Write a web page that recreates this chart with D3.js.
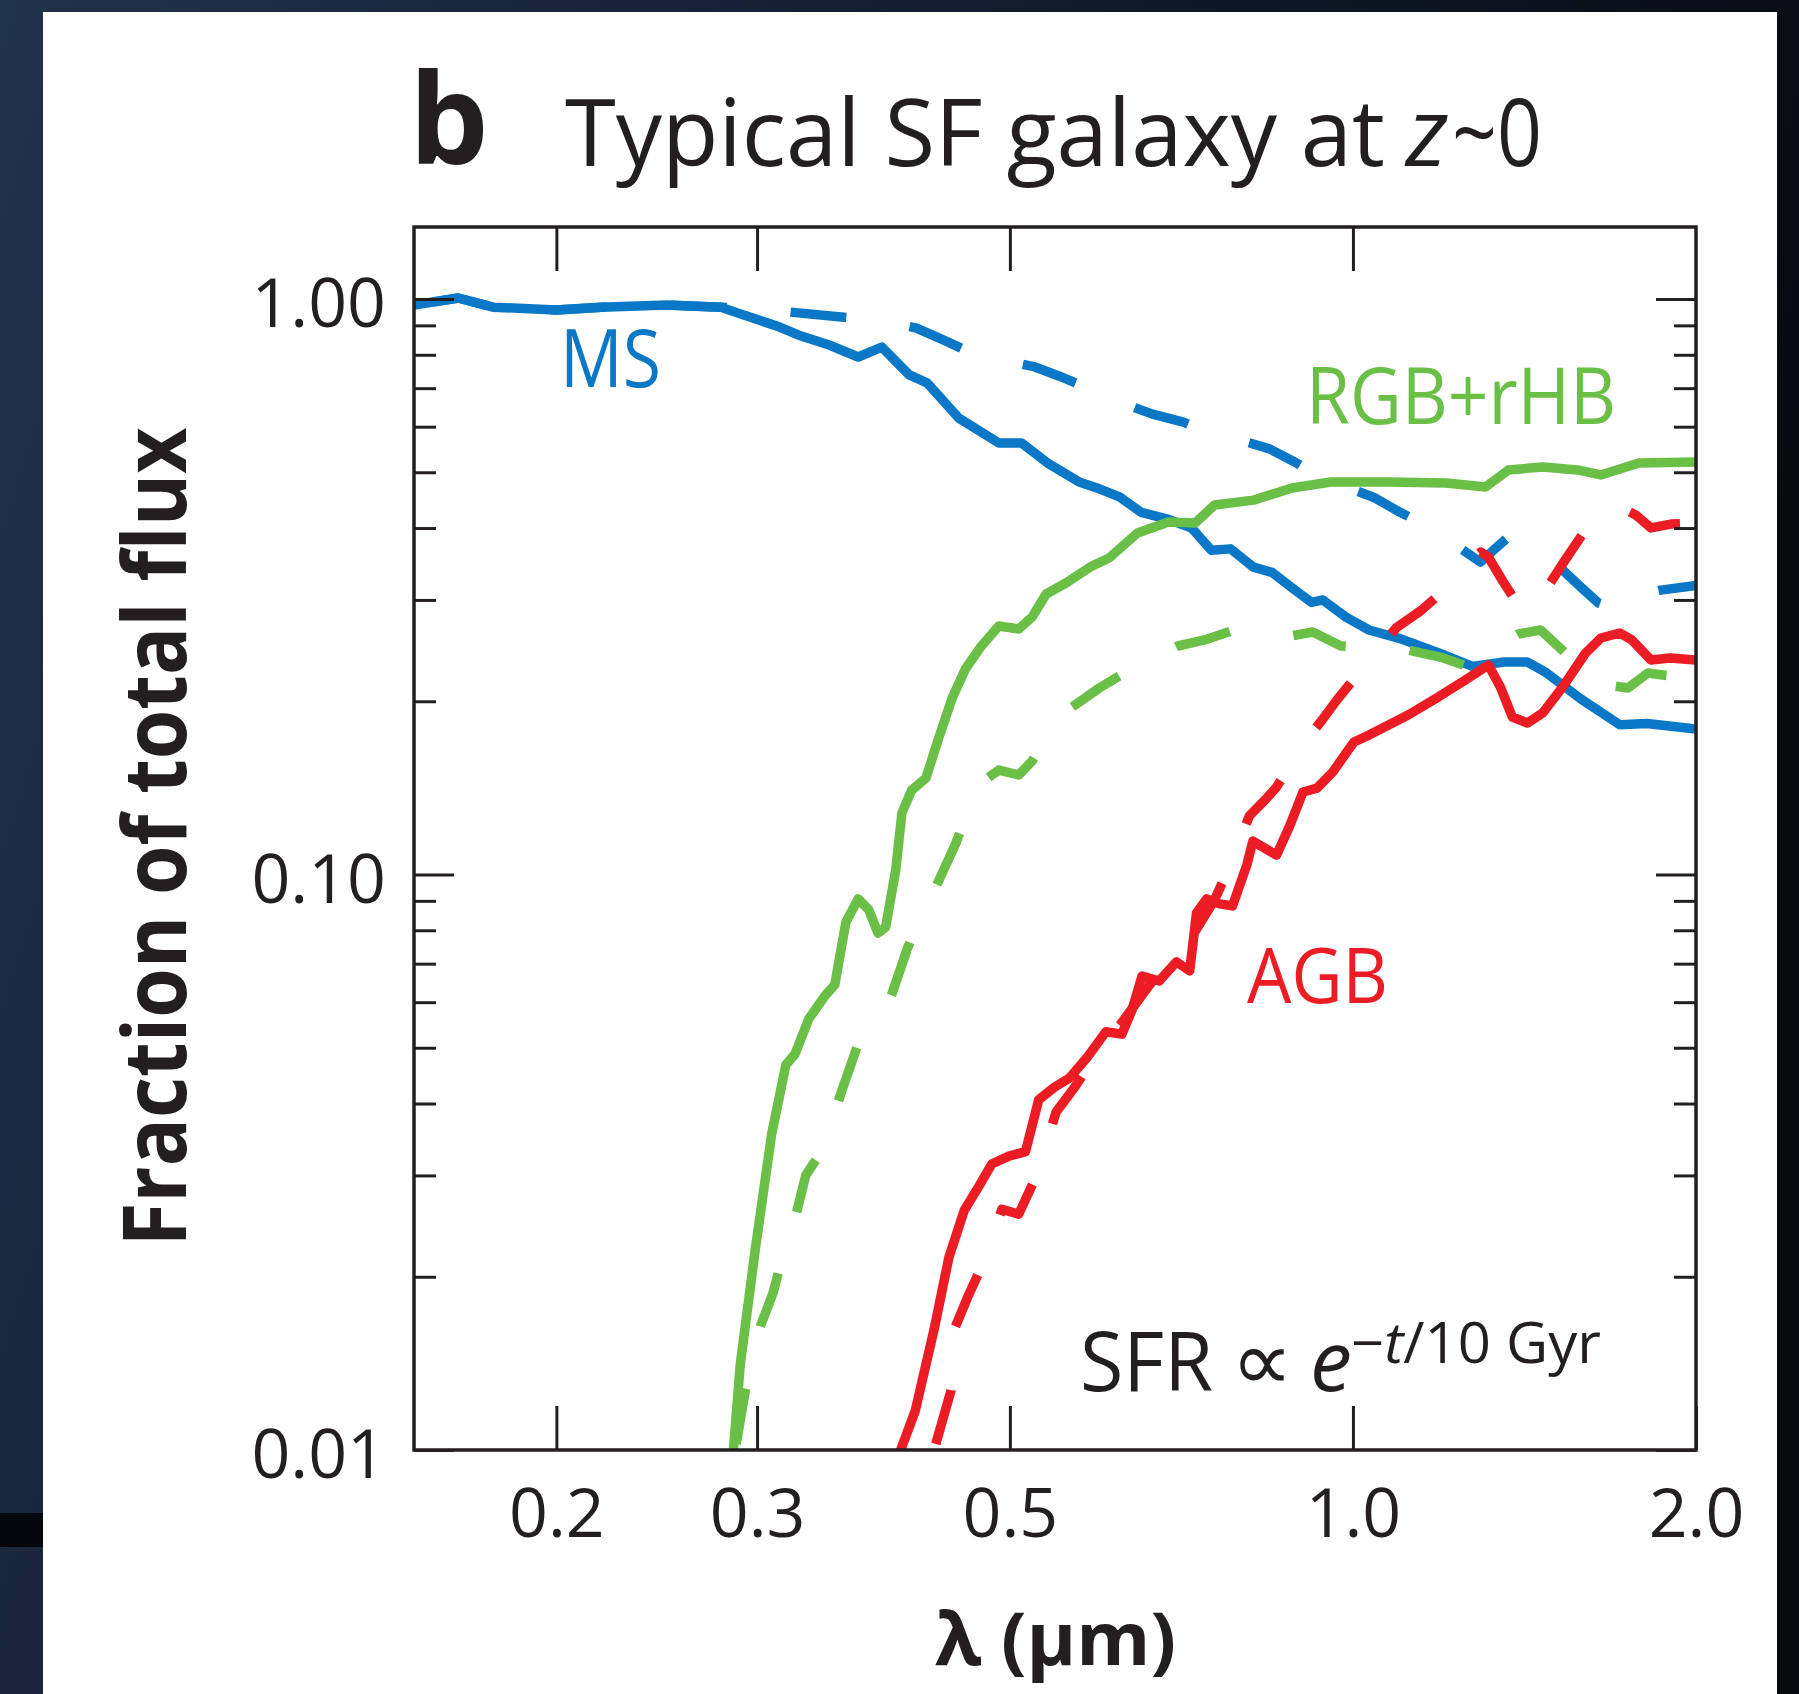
<!DOCTYPE html>
<html>
<head>
<meta charset="utf-8">
<script src="https://cdn.jsdelivr.net/npm/d3@7"></script>
<style>
  html, body { margin: 0; padding: 0; background: #0d1320; }
  svg { display: block; }
  text { font-family: "Open Sans", "Noto Sans", "DejaVu Sans", sans-serif; fill: #231f20; }
</style>
</head>
<body>
<svg id="chart" width="1799" height="1694"></svg>
<script>
// ---- data: [wavelength (micron), fraction of total flux] ----
var msSolid = [[0.150,0.976],[0.164,1.004],[0.176,0.968],[0.200,0.957],[0.219,0.968],[0.250,0.976],[0.279,0.968],[0.287,0.949],[0.314,0.894],[0.326,0.866],[0.347,0.832],[0.368,0.793],[0.386,0.825],[0.408,0.738],[0.423,0.715],[0.451,0.621],[0.489,0.562],[0.512,0.562],[0.541,0.517],[0.575,0.481],[0.599,0.468],[0.624,0.453],[0.652,0.426],[0.686,0.415],[0.722,0.400],[0.751,0.366],[0.781,0.368],[0.818,0.342],[0.849,0.335],[0.884,0.315],[0.920,0.297],[0.941,0.300],[0.986,0.280],[1.033,0.266],[1.100,0.257],[1.188,0.243],[1.273,0.230],[1.358,0.234],[1.423,0.234],[1.479,0.224],[1.584,0.202],[1.715,0.182],[1.811,0.183],[2.000,0.179]];

var msDashed = [[0.150,0.976],[0.164,1.004],[0.176,0.968],[0.200,0.957],[0.219,0.968],[0.250,0.976],[0.279,0.968],[0.301,0.961],[0.321,0.949],[0.363,0.927],[0.391,0.912],[0.414,0.890],[0.437,0.849],[0.461,0.809],[0.494,0.783],[0.526,0.762],[0.552,0.735],[0.588,0.698],[0.624,0.662],[0.667,0.631],[0.710,0.611],[0.745,0.587],[0.795,0.569],[0.845,0.549],[0.889,0.521],[0.935,0.491],[0.994,0.469],[1.046,0.451],[1.100,0.426],[1.157,0.405],[1.230,0.374],[1.294,0.349],[1.334,0.369],[1.369,0.386],[1.403,0.384],[1.446,0.377],[1.521,0.341],[1.587,0.315],[1.643,0.296],[1.690,0.290],[1.736,0.294],[1.764,0.304],[1.863,0.312],[2.000,0.318]];

var rgbSolid = [[0.283,0.00887],[0.286,0.0100],[0.290,0.0141],[0.299,0.0224],[0.309,0.0354],[0.318,0.0467],[0.324,0.0488],[0.333,0.0561],[0.344,0.0615],[0.351,0.0643],[0.359,0.0827],[0.368,0.0907],[0.376,0.0868],[0.383,0.0791],[0.389,0.0810],[0.397,0.1018],[0.402,0.1279],[0.410,0.1402],[0.422,0.1471],[0.433,0.1726],[0.445,0.2026],[0.457,0.2276],[0.472,0.2495],[0.489,0.2703],[0.509,0.2671],[0.523,0.2802],[0.538,0.3072],[0.560,0.3210],[0.590,0.3435],[0.611,0.3548],[0.647,0.3922],[0.689,0.4098],[0.727,0.4082],[0.756,0.4385],[0.818,0.4473],[0.884,0.4694],[0.956,0.4808],[1.074,0.4808],[1.207,0.4789],[1.307,0.4713],[1.369,0.5046],[1.467,0.5107],[1.575,0.5046],[1.650,0.4946],[1.782,0.5188],[2.000,0.5209]];

var rgbDashed = [[0.283,0.00887],[0.287,0.0100],[0.293,0.0127],[0.302,0.0164],[0.310,0.0188],[0.317,0.0223],[0.325,0.0259],[0.331,0.0300],[0.342,0.0331],[0.356,0.0421],[0.370,0.0524],[0.381,0.0559],[0.391,0.0593],[0.406,0.0739],[0.416,0.0834],[0.427,0.0918],[0.448,0.1130],[0.460,0.1295],[0.474,0.1454],[0.489,0.1519],[0.509,0.1489],[0.523,0.1575],[0.541,0.1747],[0.567,0.1954],[0.599,0.2109],[0.626,0.2222],[0.663,0.2359],[0.702,0.2495],[0.741,0.2556],[0.782,0.2649],[0.828,0.2607],[0.882,0.2597],[0.922,0.2639],[0.976,0.2495],[1.046,0.2475],[1.118,0.2455],[1.193,0.2387],[1.265,0.2294],[1.320,0.2455],[1.397,0.2618],[1.461,0.2660],[1.556,0.2368],[1.650,0.2143],[1.743,0.2109],[1.815,0.2239],[1.932,0.2204],[2.000,0.2195]];

var agbSolid = [[0.396,0.00887],[0.401,0.0100],[0.413,0.0117],[0.429,0.0162],[0.442,0.0216],[0.456,0.0261],[0.470,0.0288],[0.482,0.0314],[0.499,0.0324],[0.516,0.0330],[0.530,0.0406],[0.547,0.0427],[0.564,0.0443],[0.584,0.0480],[0.607,0.0533],[0.627,0.0528],[0.640,0.0582],[0.653,0.0666],[0.676,0.0653],[0.700,0.0705],[0.719,0.0680],[0.729,0.0857],[0.744,0.0907],[0.764,0.0889],[0.784,0.0882],[0.807,0.1039],[0.817,0.1143],[0.828,0.1125],[0.857,0.1081],[0.880,0.1214],[0.904,0.1391],[0.930,0.1413],[0.960,0.1507],[1.002,0.1699],[1.033,0.1747],[1.118,0.1893],[1.188,0.2034],[1.255,0.2178],[1.315,0.2312],[1.347,0.2118],[1.380,0.1878],[1.423,0.1833],[1.467,0.1908],[1.528,0.2118],[1.600,0.2426],[1.650,0.2576],[1.715,0.2628],[1.757,0.2556],[1.826,0.2359],[1.897,0.2378],[2.000,0.2359]];

var agbDashed = [[0.423,0.00887],[0.429,0.0100],[0.444,0.0127],[0.448,0.0164],[0.460,0.0186],[0.471,0.0206],[0.492,0.0262],[0.509,0.0257],[0.527,0.0298],[0.538,0.0339],[0.549,0.0387],[0.570,0.0427],[0.590,0.0474],[0.611,0.0516],[0.663,0.0643],[0.719,0.0769],[0.756,0.0903],[0.779,0.1030],[0.811,0.1264],[0.837,0.1347],[0.857,0.1419],[0.911,0.1719],[0.941,0.1863],[0.968,0.2010],[1.025,0.2312],[1.091,0.2682],[1.146,0.2870],[1.198,0.3097],[1.255,0.3449],[1.294,0.3634],[1.315,0.3561],[1.355,0.3223],[1.400,0.2916],[1.426,0.2836],[1.476,0.3121],[1.531,0.3491],[1.584,0.3858],[1.637,0.4265],[1.701,0.4385],[1.771,0.4214],[1.826,0.4002],[1.901,0.4064],[2.000,0.4082]];

// axes
var lambdaDomain = [0.15, 2.0];
var fracDomain = [0.01, 1.334];
var xTicks = [0.2, 0.3, 0.5, 1.0, 2.0];
var yMajor = [0.01, 0.1, 1.0];
var yMinor = [0.02, 0.03, 0.04, 0.05, 0.06, 0.07, 0.08, 0.09, 0.2, 0.3, 0.4, 0.5, 0.6, 0.7, 0.8, 0.9];

var blue = "#0a78c6", green = "#6abf46", red = "#ec1c24", ink = "#231f20";

var svg = d3.select("#chart");
var frame = {left: 414, right: 1696, top: 227, bottom: 1450};

// ---- background: night-sky strip and white panel ----
var defs = svg.append("defs");
var grad = defs.append("linearGradient").attr("id", "sky")
    .attr("x1", 0).attr("y1", 0).attr("x2", 1).attr("y2", 0.3);
grad.append("stop").attr("offset", "0%").attr("stop-color", "#21324b");
grad.append("stop").attr("offset", "55%").attr("stop-color", "#111a2b");
grad.append("stop").attr("offset", "100%").attr("stop-color", "#060910");
svg.append("rect").attr("width", 1799).attr("height", 1694).attr("fill", "url(#sky)");
svg.append("rect").attr("x", 0).attr("y", 1513).attr("width", 44).attr("height", 34).attr("fill", "#05070c");
svg.append("rect").attr("x", 43).attr("y", 12).attr("width", 1734).attr("height", 1700).attr("fill", "#ffffff");

defs.append("clipPath").attr("id", "plotclip").append("rect")
    .attr("x", frame.left).attr("y", frame.top)
    .attr("width", frame.right - frame.left).attr("height", frame.bottom - frame.top);

var x = d3.scaleLog().domain(lambdaDomain).range([frame.left, frame.right]);
var y = d3.scaleLog().domain(fracDomain).range([frame.bottom, frame.top]);

// ---- curves ----
var line = d3.line()
    .x(function (d) { return x(d[0]); })
    .y(function (d) { return y(d[1]); });

var curves = svg.append("g").attr("clip-path", "url(#plotclip)");

var series = [
  {data: msDashed, color: blue, dashed: true, dashStart: 0.321},
  {data: msSolid, color: blue},
  {data: rgbSolid, color: green},
  {data: rgbDashed, color: green, dashed: true, dashStart: 0.302},
  {data: agbSolid, color: red},
  {data: agbDashed, color: red, dashed: true, dashStart: 0.448}
];

var dashOn = 56, dashOff = 64;

// path length needed to reach a given x (curves run left to right)
function lengthAtX(node, xt) {
  var lo = 0, hi = node.getTotalLength();
  for (var i = 0; i < 40; i++) {
    var mid = (lo + hi) / 2;
    if (node.getPointAtLength(mid).x < xt) lo = mid; else hi = mid;
  }
  return lo;
}

series.forEach(function (s) {
  var p = curves.append("path")
      .datum(s.data)
      .attr("d", line)
      .attr("fill", "none")
      .attr("stroke", s.color)
      .attr("stroke-width", 9.5)
      .attr("stroke-linejoin", "round");
  if (s.dashed) {
    var period = dashOn + dashOff;
    var len = lengthAtX(p.node(), x(s.dashStart));
    p.attr("stroke-dasharray", dashOn + "," + dashOff)
     .attr("stroke-dashoffset", (period - (len % period)) % period);
  }
});

// ---- axes (inward ticks on all four sides) ----
function styleAxis(g) {
  g.select(".domain").remove();
  g.selectAll(".tick line").attr("stroke", ink).attr("stroke-width", 3);
}

svg.append("g")
    .attr("transform", "translate(0," + frame.bottom + ")")
    .call(d3.axisBottom(x).tickValues(xTicks).tickSize(-44).tickPadding(39).tickFormat(d3.format(".1f")))
    .call(styleAxis)
    .call(function (g) {
      g.selectAll(".tick text").attr("font-size", 68).attr("fill", ink)
        .style("font-family", '"Open Sans", sans-serif');
    });

svg.append("g")
    .attr("transform", "translate(0," + frame.top + ")")
    .call(d3.axisTop(x).tickValues(xTicks.slice(0, 4)).tickSize(-44).tickFormat(""))
    .call(styleAxis);

svg.append("g")
    .attr("transform", "translate(" + frame.left + ",0)")
    .call(d3.axisLeft(y).tickValues(yMajor).tickSize(-40).tickPadding(28).tickFormat(d3.format(".2f")))
    .call(styleAxis)
    .call(function (g) {
      g.selectAll(".tick text").attr("font-size", 68).attr("fill", ink).attr("dy", "0.41em")
        .style("font-family", '"Open Sans", sans-serif');
    });

svg.append("g")
    .attr("transform", "translate(" + frame.left + ",0)")
    .call(d3.axisLeft(y).tickValues(yMinor).tickSize(-22).tickFormat(""))
    .call(styleAxis);

svg.append("g")
    .attr("transform", "translate(" + frame.right + ",0)")
    .call(d3.axisRight(y).tickValues(yMajor).tickSize(-40).tickFormat(""))
    .call(styleAxis);

svg.append("g")
    .attr("transform", "translate(" + frame.right + ",0)")
    .call(d3.axisRight(y).tickValues(yMinor).tickSize(-22).tickFormat(""))
    .call(styleAxis);

// frame
svg.append("rect")
    .attr("x", frame.left).attr("y", frame.top)
    .attr("width", frame.right - frame.left).attr("height", frame.bottom - frame.top)
    .attr("fill", "none").attr("stroke", ink).attr("stroke-width", 3.5);

// ---- texts ----
svg.append("text").attr("x", 409).attr("y", 164)
    .attr("font-size", 126).attr("font-weight", "bold").text("b");

svg.append("text").attr("x", 565).attr("y", 166)
    .attr("font-size", 93).attr("textLength", 820).attr("lengthAdjust", "spacingAndGlyphs")
    .text("Typical SF galaxy at");
svg.append("text").attr("x", 1406).attr("y", 166)
    .attr("font-size", 95).attr("font-style", "italic").text("z");
svg.append("text").attr("x", 1452).attr("y", 166)
    .attr("font-size", 93).attr("textLength", 90).attr("lengthAdjust", "spacingAndGlyphs")
    .text("~0");

svg.append("text")
    .attr("transform", "translate(186,837) rotate(-90)")
    .attr("text-anchor", "middle")
    .attr("font-size", 88).attr("font-weight", "bold")
    .attr("textLength", 819).attr("lengthAdjust", "spacingAndGlyphs")
    .text("Fraction of total  flux");

svg.append("text").attr("x", 935).attr("y", 1665)
    .attr("font-size", 74).attr("font-weight", "bold")
    .attr("textLength", 241).attr("lengthAdjust", "spacingAndGlyphs")
    .text("\u03bb (\u03bcm)");

// curve labels
svg.append("text").attr("x", 560).attr("y", 387).attr("font-size", 80)
    .attr("textLength", 101).attr("lengthAdjust", "spacingAndGlyphs")
    .style("fill", blue).text("MS");
svg.append("text").attr("x", 1306).attr("y", 424).attr("font-size", 78)
    .attr("textLength", 310).attr("lengthAdjust", "spacingAndGlyphs")
    .style("fill", green).text("RGB+rHB");
svg.append("text").attr("x", 1247).attr("y", 1003).attr("font-size", 76)
    .attr("textLength", 141).attr("lengthAdjust", "spacingAndGlyphs")
    .style("fill", red).text("AGB");

// SFR annotation
svg.append("text").attr("x", 1080).attr("y", 1391).attr("font-size", 82)
    .attr("textLength", 133).attr("lengthAdjust", "spacingAndGlyphs").text("SFR");
svg.append("text").attr("x", 1231).attr("y", 1390).attr("font-size", 84)
    .attr("textLength", 62).attr("lengthAdjust", "spacingAndGlyphs").text("\u221d");
svg.append("text").attr("x", 1310).attr("y", 1391).attr("font-size", 84)
    .attr("font-style", "italic").text("e");
var sup = svg.append("text").attr("x", 1351).attr("y", 1363).attr("font-size", 56)
    .attr("textLength", 250).attr("lengthAdjust", "spacingAndGlyphs");
sup.append("tspan").text("\u2212");
sup.append("tspan").attr("font-style", "italic").text("t");
sup.append("tspan").text("/10 Gyr");
</script>
</body>
</html>
